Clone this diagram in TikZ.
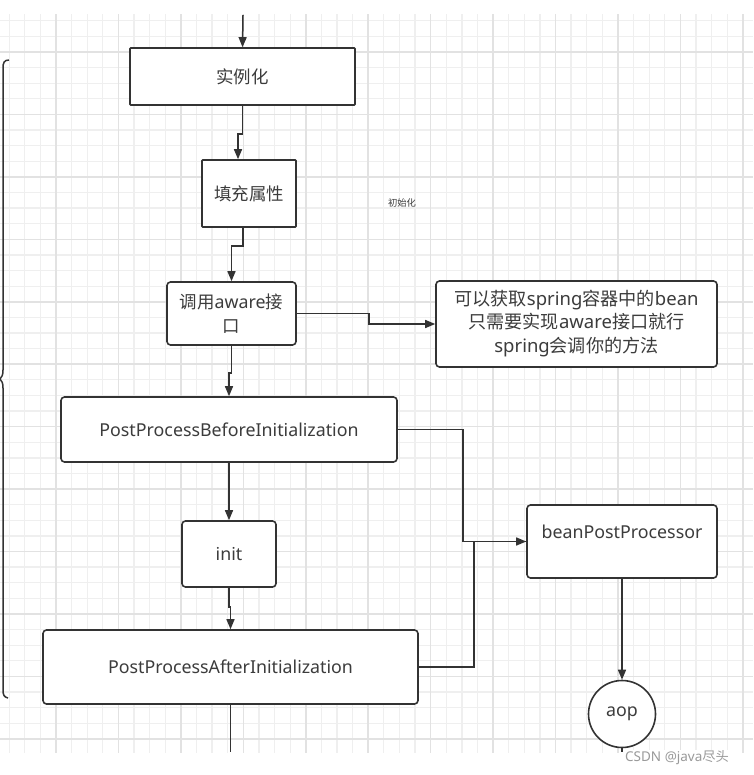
\documentclass[tikz,border=0pt]{standalone}
\usepackage{fontspec}
\setmainfont{Noto Sans}
\newfontfamily\cjk[Scale=0.98]{Noto Sans CJK SC}
\usetikzlibrary{arrows.meta,calc}
\definecolor{ink}{HTML}{333333}
\definecolor{txt}{HTML}{3C3C3C}
\definecolor{gminor}{HTML}{EFEFEF}
\definecolor{gmajor}{HTML}{E2E2E2}
\definecolor{wm}{HTML}{9A9A9A}
\tikzset{
  box/.style={draw=ink, line width=1.6pt, fill=white, inner sep=0pt, text=txt,
    font=\fontsize{17.8}{23.5}\selectfont, align=center},
  sharpbox/.style={box, rounded corners=0.8pt},
  roundbox/.style={box, rounded corners=3.5pt},
  conn/.style={draw=ink, line width=1.5pt},
  arr/.style={conn, -{Triangle[length=10pt,width=8pt]}},
}
\begin{document}
\begin{tikzpicture}[x=1pt,y=-1pt]
\useasboundingbox (0,0) rectangle (753,775);
\fill[white] (0,0) rectangle (753,775);
% grid
\begin{scope}
\clip (0,15) rectangle (753,752);
\foreach \i in {-4,...,45} {
  \pgfmathsetmacro{\gx}{56+15.61*\i}
  \pgfmathsetmacro{\gy}{52+15.61*\i}
  \draw[gminor, line width=1.3pt] (\gx,0) -- (\gx,775);
  \draw[gminor, line width=1.3pt] (0,\gy) -- (753,\gy);
}
\foreach \i in {-1,...,12} {
  \pgfmathsetmacro{\gx}{56+62.44*\i}
  \pgfmathsetmacro{\gy}{52+62.44*\i}
  \draw[gmajor, line width=1.5pt] (\gx,0) -- (\gx,775);
  \draw[gmajor, line width=1.5pt] (0,\gy) -- (753,\gy);
}
\end{scope}
% left brace
\draw[ink, line width=1.5pt] (9,60) .. controls (4,60) and (3,63) .. (3,68)
  -- (3,370) .. controls (3,375) and (2,377) .. (0,379)
  .. controls (2,381) and (3,383) .. (3,388)
  -- (3,690) .. controls (3,695) and (4,697) .. (8,698);
% nodes
\node[sharpbox, minimum width=225pt, minimum height=57pt] (inst) at (242.5,76.5) {\cjk 实例化};
\node[sharpbox, minimum width=94pt, minimum height=67pt] (fill) at (249,193.5) {\cjk 填充属性};
\node[roundbox, minimum width=129pt, minimum height=63pt] (aware) at (231.5,313.5) {{\cjk 调用}aware{\cjk 接}\\{\cjk 口}};
\node[roundbox, minimum width=281pt, minimum height=86pt, font=\fontsize{18.5}{23.5}\selectfont] (note) at (576.5,324)
  {\begin{tabular}{@{}c@{}}{\cjk 可以获取}spring{\cjk 容器中的}bean\\{\cjk 只需要实现}aware{\cjk 接口就行}\\spring{\cjk 会调你的方法}\end{tabular}};
\node[roundbox, minimum width=336pt, minimum height=65pt] (ppb) at (229,429.5) {PostProcessBeforeInitialization};
\node[roundbox, minimum width=94pt, minimum height=66pt] (init) at (229,554) {init};
\node[roundbox, minimum width=375pt, minimum height=74pt] (ppa) at (230.5,667) {PostProcessAfterInitialization};
\node[roundbox, minimum width=190pt, minimum height=73pt,
  label={[yshift=9.5pt, text=txt, font=\fontsize{17.8}{23.5}\selectfont]center:beanPostProcessor}] (bpp) at (622,541.5) {};
\node[box, circle, minimum size=67pt] (aop) at (622,714) {aop};
\node[text=txt, font=\fontsize{9.5}{12}\selectfont\cjk] (initlabel) at (402,203) {初始化};
% free ends
\coordinate (top) at (243,15);
\coordinate (bot) at (230.5,752);
\coordinate (aopbot) at (622,752);
% connectors
\draw[arr] (top) -- (inst.north);
\draw[arr] (inst.south) -- ++(0,28) -| ([xshift=-11pt]fill.north);
\draw[arr] ([xshift=-6pt]fill.south) -- ++(0,18) -| (aware.north);
\draw[arr] (aware.south) -- ++(0,27) -| (ppb.north);
\draw[arr] (ppb.south) -- (init.north);
\draw[arr] (init.south) -- ++(0,19) -| (ppa.north);
\draw[conn] (ppa.south) -- (bot);
\draw[arr] (aware.east) -- ++(72,0) |- (note.west);
\draw[arr] (ppb.east) -- ++(65,0) |- (bpp.west);
\draw[conn] (ppa.east) -- ++(55,0) |- (bpp.west);
\draw[arr] (bpp.south) -- (aop.north);
\draw[conn] (aop.south) -- (aopbot);
% watermark
\node[text=wm, font=\fontsize{13.5}{15}\selectfont, fill=white, inner sep=1pt] (wmark) at (677,758) {CSDN @java{\cjk 尽头}};
\end{tikzpicture}
\end{document}
